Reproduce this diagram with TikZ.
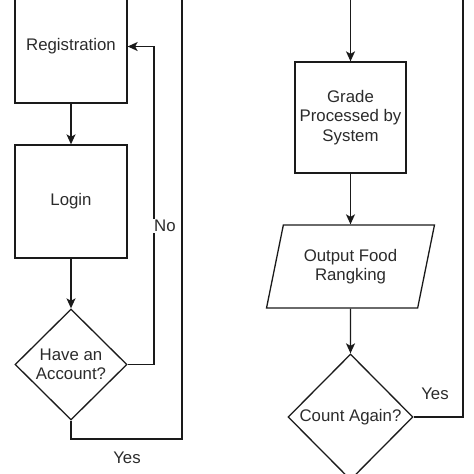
\documentclass[tikz,border=0pt]{standalone}
\usepackage{fontspec}
\setmainfont{Liberation Sans}
\usetikzlibrary{shapes.geometric,arrows.meta}
\definecolor{ink}{HTML}{1A1A1A}
\definecolor{txt}{HTML}{2B2B2B}
\tikzset{
  fnt/.style={font=\fontsize{16.8}{19.5}\selectfont},
  box/.style={draw=ink, line width=1.3pt, rectangle, inner sep=0pt, align=center, text=txt, fnt},
  decision/.style={draw=ink, line width=1.3pt, diamond, inner sep=0pt, align=center, text=txt, fnt},
  io/.style={draw=ink, line width=1.3pt, trapezium, trapezium left angle=71.6, trapezium right angle=108.4, trapezium stretches=true, inner sep=0pt, align=center, text=txt, fnt},
  flow/.style={draw=ink, line width=1.3pt, -{Stealth[length=10pt,width=9pt,inset=2.5pt]}},
  plain/.style={draw=ink, line width=1.3pt},
  lbl/.style={text=txt, fnt, inner sep=1pt}
}
\begin{document}
\begin{tikzpicture}[x=1pt,y=-1pt]
\useasboundingbox (0,0) rectangle (474,474);
% left column
\node[box, minimum width=112pt, minimum height=113pt] (reg) at (71,46.5) {Registration};
\node[box, minimum width=112pt, minimum height=113pt] (login) at (71,201.5) {Login};
\node[decision, minimum width=112pt, minimum height=111pt] (acc) at (71,364.5) {Have an\\Account?};
\coordinate (topL) at (182,-5);
\coordinate (noC) at (154,364.5);
\coordinate (yesC) at (71,439);
\draw[flow] (reg) -- (login);
\draw[flow] (login) -- (acc);
\draw[flow] (acc.east) -- (noC) |- (reg.east);
\node[lbl, fill=white, anchor=west] (no) at (153,226) {No};
\draw[plain] (acc.south) -- (yesC) -| (topL);
\node[lbl] (yes1) at (127,458) {Yes};
% right column
\coordinate (topR) at (350.5,-5);
\node[box, minimum width=111pt, minimum height=111pt] (grade) at (350.5,117.5) {Grade\\Processed by\\System};
\node[io, minimum width=168pt, minimum height=83pt] (out) at (350.5,266.5) {Output Food\\Rangking};
\node[decision, minimum width=125pt, minimum height=126pt] (again) at (350.5,417) {Count Again?};
\coordinate (topR2) at (463,-5);
\draw[flow] (topR) -- (grade);
\draw[flow] (grade) -- (out);
\draw[flow] (out) -- (again);
\draw[plain] (again.east) -| (topR2);
\node[lbl] (yes2) at (435,394) {Yes};
\end{tikzpicture}
\end{document}
